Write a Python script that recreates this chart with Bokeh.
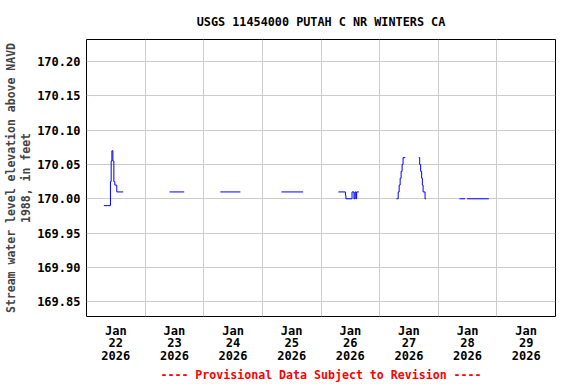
from bokeh.plotting import figure
from bokeh.models import FixedTicker, Range1d, Title
from bokeh.embed import file_html
from bokeh.resources import INLINE

# hours since 2026-01-22 00:00, water level (ft above NAVD 1988)
jan22_t = [7.1, 9.8, 10.1, 10.4, 10.8, 11.2, 11.6, 12.0, 12.4, 15.0]
jan22_v = [169.99, 170.025, 170.055, 170.07, 170.055, 170.025, 170.02, 170.02, 170.01, 170.01]
jan23_t = [34.0, 40.0]
jan23_v = [170.01, 170.01]
jan24_t = [54.8, 63.0]
jan24_v = [170.01, 170.01]
jan25_t = [79.8, 88.7]
jan25_v = [170.01, 170.01]
jan26_t = [103.1, 106.0, 106.2, 108.7, 109.5, 109.9, 110.3, 110.6, 111.5]
jan26_v = [170.01, 170.005, 170.00, 170.01, 170.00, 170.01, 170.00, 170.01, 170.01]
jan27a_t = [126.9, 127.6, 128.0, 128.4, 128.8, 129.2, 129.6, 130.5]
jan27a_v = [170.00, 170.01, 170.02, 170.03, 170.04, 170.05, 170.06, 170.06]
jan27b_t = [136.0, 136.4, 136.8, 137.2, 137.5, 137.8, 138.6, 139.0]
jan27b_v = [170.06, 170.05, 170.04, 170.03, 170.02, 170.01, 170.00, 170.00]
jan28a_t = [152.7, 155.0]
jan28a_v = [170.00, 170.00]
jan28b_t = [155.8, 164.7]
jan28b_v = [170.00, 170.00]

segments = [(jan22_t, jan22_v), (jan23_t, jan23_v), (jan24_t, jan24_v),
            (jan25_t, jan25_v), (jan26_t, jan26_v), (jan27a_t, jan27a_v),
            (jan27b_t, jan27b_v), (jan28a_t, jan28a_v), (jan28b_t, jan28b_v)]

day_ticks = [12, 36, 60, 84, 108, 132, 156, 180]
day_labels = ["Jan\n22\n2026", "Jan\n23\n2026", "Jan\n24\n2026", "Jan\n25\n2026",
              "Jan\n26\n2026", "Jan\n27\n2026", "Jan\n28\n2026", "Jan\n29\n2026"]
day_bounds = [24, 48, 72, 96, 120, 144, 168]
y_ticks = [169.85, 169.90, 169.95, 170.00, 170.05, 170.10, 170.15, 170.20]
y_labels = ["169.85", "169.90", "169.95", "170.00", "170.05", "170.10", "170.15", "170.20"]

FONT = "DejaVu Sans Mono"

p = figure(width=576, height=384, output_backend="svg", toolbar_location=None,
           x_range=Range1d(0, 192), y_range=Range1d(169.8284, 170.2322),
           min_border_left=86, min_border_right=21, min_border_top=39,
           min_border_bottom=68)

p.title.text = "USGS 11454000 PUTAH C NR WINTERS CA"
p.title.align = "center"
p.title.text_font = FONT
p.title.text_font_size = "11.8px"
p.title.text_font_style = "bold"
p.title.text_color = "black"
p.title.standoff = 22

p.outline_line_color = "black"
p.outline_line_width = 1
p.background_fill_color = "white"
p.border_fill_color = "white"

for (t, v) in segments:
    p.step(t, v, mode="after", line_color="#0000ff", line_width=1)

xa = p.xaxis[0]
xa.ticker = FixedTicker(ticks=day_ticks)
xa.major_label_overrides = {t: l for t, l in zip(day_ticks, day_labels)}
ya = p.yaxis[0]
ya.ticker = FixedTicker(ticks=y_ticks)
ya.major_label_overrides = {t: l for t, l in zip(y_ticks, y_labels)}
ya.axis_label = "Stream water level elevation above NAVD\n1988, in feet"
ya.axis_label_text_font = FONT
ya.axis_label_text_font_size = "11.5px"
ya.axis_label_text_font_style = "bold"
ya.axis_label_text_line_height = 1.1
ya.axis_label_standoff = 1

for ax in (xa, ya):
    ax.axis_line_color = None
    ax.major_tick_line_color = None
    ax.minor_tick_line_color = None
    ax.major_tick_out = 0
    ax.major_tick_in = 0
    ax.major_label_text_font = FONT
    ax.major_label_text_font_size = "12px"
    ax.major_label_text_font_style = "bold"
    ax.major_label_text_color = "black"
xa.major_label_text_line_height = 0.91
xa.major_label_standoff = 7
ya.major_label_standoff = 6

p.xgrid.ticker = FixedTicker(ticks=day_bounds)
p.ygrid.ticker = FixedTicker(ticks=y_ticks)
p.xgrid.grid_line_color = "#cccccc"
p.ygrid.grid_line_color = "#cccccc"

footer = Title(text="---- Provisional Data Subject to Revision ----", align="center",
               text_font=FONT, text_font_size="11.6px", text_font_style="bold",
               text_color="#ff0000", standoff=0)
p.add_layout(footer, "below")

open("out.html", "w").write(file_html(p, INLINE))
